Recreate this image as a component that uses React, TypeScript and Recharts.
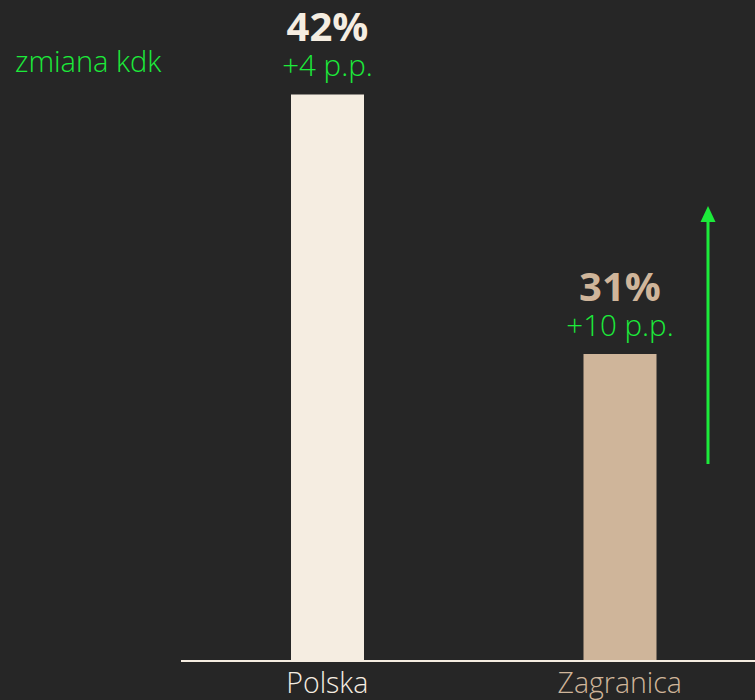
import { Bar, BarChart, Cell, LabelList, XAxis, YAxis } from 'recharts';

const categories = ['Polska', 'Zagranica'];
const shares = [42, 31];
const changes = ['+4 p.p.', '+10 p.p.'];
const barColors = ['#F5EDE1', '#CFB59A'];

const data = categories.map((name, i) => ({ name, share: shares[i], change: changes[i] }));

const GREEN = '#1CEB3A';
const FONT = '"Open Sans", sans-serif';

function ValueLabel(props: any) {
  const { x, y, width, index } = props;
  const cx = x + width / 2;
  return (
    <g>
      <text x={cx} y={y - 53} textAnchor="middle" fill={barColors[index]} fontSize={40} fontWeight={700} fontFamily={FONT}>
        {shares[index]}%
      </text>
      <text x={cx} y={y - 18} textAnchor="middle" fill={GREEN} fontSize={29.5} fontWeight={300} fontFamily={FONT}>
        {changes[index]}
      </text>
    </g>
  );
}

function CategoryTick(props: any) {
  const { x, y, payload, index } = props;
  return (
    <text x={x} y={y} dy={24} textAnchor="middle" fill={barColors[index]} fontSize={28.5} fontWeight={300} fontFamily={FONT}>
      {payload.value}
    </text>
  );
}

export default function App() {
  return (
    <div style={{ position: 'absolute', left: 0, top: 0, width: 755, height: 700, overflow: 'hidden', background: '#262626' }}>
      <div style={{ position: 'absolute', left: 15, top: 41, color: GREEN, fontSize: 29, fontWeight: 300, fontFamily: FONT, lineHeight: '40px' }}>
        zmiana kdk
      </div>
      <BarChart width={766} height={700} data={data} margin={{ top: 0, right: 0, bottom: 0, left: 181 }}>
        <YAxis hide domain={[18, 46]} />
        <XAxis
          dataKey="name"
          height={39}
          tickLine={false}
          axisLine={{ stroke: '#F5EDE1', strokeWidth: 2 }}
          tick={<CategoryTick />}
          interval={0}
        />
        <Bar dataKey="share" barSize={73} isAnimationActive={false}>
          {data.map((d, i) => (
            <Cell key={d.name} fill={barColors[i]} />
          ))}
          <LabelList dataKey="share" content={<ValueLabel />} />
        </Bar>
      </BarChart>
      <svg style={{ position: 'absolute', left: 0, top: 0 }} width={755} height={700}>
        <line x1={708} y1={464} x2={708} y2={220} stroke={GREEN} strokeWidth={3} />
        <polygon points="708,206 700.5,222 715.5,222" fill={GREEN} />
      </svg>
    </div>
  );
}
